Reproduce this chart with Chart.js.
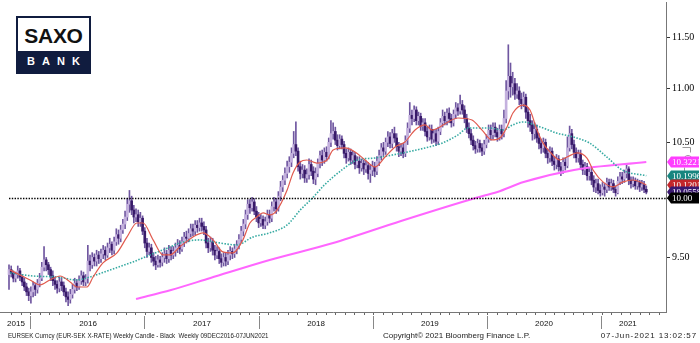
<!DOCTYPE html>
<html>
<head>
<meta charset="utf-8">
<title>EURSEK weekly</title>
<script src="https://cdn.jsdelivr.net/npm/chart.js@4.4.0/dist/chart.umd.min.js"></script>
<style>
  html, body { margin: 0; padding: 0; background: #fff; }
  #wrap { position: relative; width: 700px; height: 343px; overflow: hidden; }
  #chart { position: absolute; left: 0; top: 0; }
  .logo { position: absolute; left: 16px; top: 16px; width: 75px; height: 58px; box-sizing: border-box;
          border: 2px solid #101c3f; background: #fff; font-family: "Liberation Sans", Arial, sans-serif; }
  .logo .top { height: 35px; line-height: 36px; text-align: center; font-weight: bold; font-size: 21px;
               letter-spacing: -0.3px; color: #111; }
  .logo .bottom { position: absolute; left: 0; right: 0; bottom: 0; height: 21px; background: #101c3f; color: #fff;
                  font-size: 11px; font-weight: bold; text-align: center; line-height: 21px; letter-spacing: 7px; padding-left: 7px; }
  .foot { position: absolute; top: 331px; font-family: "Liberation Sans", sans-serif;
          font-size: 8px; color: #222; white-space: pre; transform-origin: 0 0; }
</style>
</head>
<body>
<div id="wrap">
  <canvas id="chart" width="700" height="343"></canvas>
  <div class="logo"><div class="top">SAXO</div><div class="bottom">BANK</div></div>
  <div class="foot" style="left:8px; transform: scaleX(0.77)">EURSEK Curncy (EUR-SEK X-RATE) Weekly Candle - Black  Weekly 09DEC2016-07JUN2021</div>
  <div class="foot" style="left:383px">Copyright© 2021 Bloomberg Finance L.P.</div>
  <div class="foot" style="right:3px; letter-spacing: 0.9px">07-Jun-2021 13:02:57</div>
</div>
<script>
// Weekly EURSEK candles, index 0 = first week shown (late Oct 2015)
const firstOpen = 9.36;
const closes = [
  9.40, 9.37, 9.33, 9.36, 9.39, 9.34, 9.30, 9.26, 9.22, 9.19,
  9.22, 9.27, 9.24, 9.29, 9.33, 9.42, 9.48, 9.44, 9.40, 9.35,
  9.31, 9.28, 9.25, 9.30, 9.27, 9.22, 9.18, 9.16, 9.20, 9.24,
  9.29, 9.26, 9.31, 9.35, 9.30, 9.33, 9.47, 9.44, 9.50, 9.47,
  9.52, 9.49, 9.53, 9.56, 9.52, 9.58, 9.61, 9.56, 9.63, 9.69,
  9.66, 9.73, 9.78, 9.84, 9.95, 9.98, 9.90, 9.84, 9.86, 9.80,
  9.83, 9.72, 9.62, 9.55, 9.58, 9.50, 9.47, 9.44, 9.48, 9.46,
  9.50, 9.53, 9.49, 9.56, 9.52, 9.55, 9.58, 9.60, 9.57, 9.63,
  9.67, 9.66, 9.70, 9.74, 9.72, 9.77, 9.75, 9.79, 9.76, 9.73,
  9.62, 9.58, 9.63, 9.56, 9.52, 9.55, 9.49, 9.46, 9.50, 9.47,
  9.52, 9.55, 9.53, 9.57, 9.60, 9.65, 9.72, 9.78, 9.86, 9.95,
  9.92, 9.97, 9.89, 9.84, 9.79, 9.82, 9.77, 9.80, 9.86, 9.83,
  9.93, 9.97, 9.91, 10.02, 10.10, 10.16, 10.22, 10.28, 10.32, 10.40,
  10.48, 10.42, 10.28, 10.22, 10.25, 10.18, 10.21, 10.30, 10.24, 10.17,
  10.22, 10.31, 10.38, 10.34, 10.41, 10.37, 10.50, 10.58, 10.60, 10.52,
  10.47, 10.53, 10.48, 10.40, 10.36, 10.41, 10.34, 10.38, 10.30, 10.33,
  10.27, 10.31, 10.26, 10.29, 10.22, 10.25, 10.28, 10.24, 10.33, 10.38,
  10.45, 10.42, 10.50, 10.55, 10.49, 10.58, 10.54, 10.46, 10.42, 10.45,
  10.40, 10.52, 10.63, 10.75, 10.72, 10.80, 10.70, 10.74, 10.65, 10.68,
  10.60, 10.55, 10.62, 10.53, 10.58, 10.51, 10.60, 10.68, 10.74, 10.70,
  10.77, 10.72, 10.68, 10.76, 10.82, 10.79, 10.85, 10.80, 10.72, 10.63,
  10.58, 10.52, 10.47, 10.44, 10.49, 10.45, 10.42, 10.48, 10.53, 10.61,
  10.57, 10.64, 10.59, 10.55, 10.62, 10.58, 10.72, 10.98, 11.12, 11.02,
  11.05, 10.95, 10.98, 10.90, 10.86, 10.92, 10.78, 10.70, 10.66, 10.58,
  10.62, 10.54, 10.49, 10.45, 10.50, 10.40, 10.36, 10.42, 10.33, 10.30,
  10.35, 10.28, 10.25, 10.32, 10.29, 10.45, 10.58, 10.48, 10.41, 10.36,
  10.39, 10.30, 10.25, 10.28, 10.20, 10.23, 10.16, 10.10, 10.13, 10.07,
  10.05, 10.10, 10.08, 10.14, 10.10, 10.13, 10.08, 10.05, 10.15, 10.19,
  10.17, 10.22, 10.26, 10.16, 10.13, 10.15, 10.11, 10.14, 10.10, 10.12,
  10.08, 10.0558
];
const highs = [
  9.44, 9.43, 9.39, 9.38, 9.43, 9.41, 9.36, 9.33, 9.29, 9.25,
  9.26, 9.30, 9.29, 9.32, 9.37, 9.46, 9.59, 9.50, 9.46, 9.42,
  9.39, 9.34, 9.31, 9.34, 9.33, 9.30, 9.25, 9.22, 9.24, 9.28,
  9.33, 9.32, 9.35, 9.39, 9.38, 9.36, 9.60, 9.52, 9.54, 9.53,
  9.56, 9.55, 9.57, 9.60, 9.59, 9.62, 9.66, 9.63, 9.67, 9.74,
  9.73, 9.77, 9.82, 9.89, 10.00, 10.07, 10.02, 9.94, 9.91, 9.90,
  9.88, 9.85, 9.75, 9.66, 9.62, 9.61, 9.54, 9.51, 9.52, 9.51,
  9.54, 9.58, 9.56, 9.60, 9.59, 9.59, 9.62, 9.65, 9.64, 9.67,
  9.71, 9.72, 9.74, 9.78, 9.78, 9.81, 9.81, 9.83, 9.83, 9.80,
  9.76, 9.66, 9.67, 9.66, 9.60, 9.59, 9.58, 9.53, 9.54, 9.54,
  9.56, 9.59, 9.58, 9.61, 9.64, 9.69, 9.76, 9.82, 9.90, 9.99,
  9.99, 10.01, 10.00, 9.93, 9.88, 9.86, 9.85, 9.84, 9.90, 9.90,
  9.97, 10.01, 10.00, 10.06, 10.15, 10.20, 10.27, 10.33, 10.37, 10.45,
  10.60, 10.69, 10.45, 10.33, 10.30, 10.29, 10.26, 10.35, 10.34, 10.28,
  10.27, 10.35, 10.42, 10.43, 10.45, 10.46, 10.54, 10.70, 10.68, 10.64,
  10.57, 10.57, 10.56, 10.51, 10.44, 10.45, 10.44, 10.42, 10.41, 10.37,
  10.37, 10.35, 10.34, 10.33, 10.32, 10.30, 10.33, 10.32, 10.37, 10.43,
  10.49, 10.50, 10.54, 10.60, 10.59, 10.62, 10.64, 10.58, 10.50, 10.49,
  10.49, 10.56, 10.68, 10.87, 10.80, 10.84, 10.83, 10.78, 10.77, 10.72,
  10.72, 10.64, 10.66, 10.66, 10.62, 10.62, 10.64, 10.72, 10.80, 10.78,
  10.81, 10.82, 10.76, 10.80, 10.87, 10.86, 10.94, 10.89, 10.84, 10.76,
  10.68, 10.62, 10.56, 10.51, 10.53, 10.52, 10.49, 10.52, 10.57, 10.66,
  10.66, 10.68, 10.68, 10.63, 10.66, 10.66, 10.80, 11.08, 11.43, 11.25,
  11.16, 11.10, 11.05, 11.02, 10.96, 10.97, 10.95, 10.82, 10.76, 10.70,
  10.68, 10.66, 10.58, 10.53, 10.54, 10.53, 10.44, 10.46, 10.45, 10.37,
  10.39, 10.38, 10.32, 10.36, 10.36, 10.55, 10.65, 10.62, 10.52, 10.45,
  10.43, 10.43, 10.34, 10.32, 10.31, 10.27, 10.27, 10.20, 10.17, 10.17,
  10.12, 10.14, 10.13, 10.18, 10.17, 10.17, 10.16, 10.11, 10.19, 10.23,
  10.23, 10.25, 10.30, 10.28, 10.19, 10.19, 10.18, 10.17, 10.16, 10.16,
  10.15, 10.11
];
const lows = [
  9.24, 9.34, 9.30, 9.30, 9.33, 9.31, 9.27, 9.23, 9.19, 9.15,
  9.13, 9.18, 9.19, 9.21, 9.26, 9.31, 9.39, 9.39, 9.36, 9.31,
  9.27, 9.24, 9.21, 9.22, 9.23, 9.19, 9.14, 9.11, 9.13, 9.17,
  9.21, 9.23, 9.24, 9.28, 9.27, 9.27, 9.29, 9.39, 9.41, 9.43,
  9.43, 9.45, 9.46, 9.49, 9.48, 9.50, 9.54, 9.52, 9.53, 9.60,
  9.61, 9.63, 9.70, 9.74, 9.81, 9.88, 9.86, 9.79, 9.80, 9.76,
  9.76, 9.69, 9.58, 9.50, 9.52, 9.46, 9.43, 9.40, 9.42, 9.42,
  9.43, 9.46, 9.45, 9.46, 9.48, 9.49, 9.51, 9.54, 9.53, 9.55,
  9.59, 9.62, 9.63, 9.67, 9.68, 9.69, 9.71, 9.72, 9.72, 9.69,
  9.58, 9.54, 9.55, 9.52, 9.48, 9.49, 9.45, 9.42, 9.43, 9.43,
  9.44, 9.48, 9.49, 9.50, 9.53, 9.57, 9.62, 9.68, 9.74, 9.82,
  9.87, 9.89, 9.86, 9.80, 9.75, 9.76, 9.74, 9.74, 9.77, 9.79,
  9.80, 9.89, 9.87, 9.89, 9.98, 10.06, 10.12, 10.18, 10.23, 10.28,
  10.36, 10.38, 10.24, 10.17, 10.18, 10.14, 10.14, 10.17, 10.20, 10.13,
  10.12, 10.19, 10.27, 10.29, 10.31, 10.33, 10.35, 10.46, 10.53, 10.48,
  10.43, 10.44, 10.44, 10.36, 10.31, 10.33, 10.30, 10.31, 10.26, 10.27,
  10.22, 10.24, 10.21, 10.23, 10.17, 10.14, 10.20, 10.19, 10.21, 10.29,
  10.34, 10.38, 10.39, 10.46, 10.45, 10.45, 10.50, 10.42, 10.37, 10.38,
  10.36, 10.37, 10.48, 10.59, 10.66, 10.69, 10.66, 10.66, 10.61, 10.61,
  10.56, 10.51, 10.52, 10.49, 10.50, 10.47, 10.48, 10.57, 10.64, 10.66,
  10.66, 10.68, 10.64, 10.65, 10.72, 10.75, 10.76, 10.76, 10.68, 10.59,
  10.54, 10.48, 10.43, 10.40, 10.41, 10.41, 10.38, 10.39, 10.45, 10.50,
  10.52, 10.53, 10.55, 10.51, 10.52, 10.53, 10.55, 10.68, 10.90, 10.92,
  10.94, 10.90, 10.91, 10.85, 10.81, 10.83, 10.72, 10.64, 10.60, 10.52,
  10.53, 10.50, 10.44, 10.40, 10.41, 10.36, 10.31, 10.32, 10.29, 10.25,
  10.26, 10.24, 10.20, 10.22, 10.25, 10.27, 10.42, 10.44, 10.36, 10.32,
  10.32, 10.26, 10.21, 10.21, 10.16, 10.16, 10.12, 10.06, 10.05, 10.04,
  10.02, 10.03, 10.02, 10.05, 10.07, 10.07, 10.05, 10.02, 10.04, 10.12,
  10.13, 10.14, 10.18, 10.12, 10.09, 10.10, 10.08, 10.08, 10.06, 10.07,
  10.05, 10.04
];

// Moving averages, sampled by week index
const fastWeeks = [0.5, 5, 9.6, 14.2, 18.7, 23.3, 27.9, 31, 35.6, 38.4, 42.9, 49.3, 53.9, 58.4, 61.2, 65.8,
  70.3, 73.5, 78, 84, 88.6, 93.2, 97.7, 102.3, 106.8, 110, 113.2, 116, 119.2, 122.4, 127, 129.7,
  132.9, 136, 140.6, 145.2, 148, 153.4, 158, 162.6, 167.1, 171.7, 176.3, 180.8, 185.4, 190, 193.2,
  196, 200.5, 205, 211.4, 216, 220.5, 224.2, 227.4, 230.1, 234.7, 237.9, 241.1, 243.8, 247, 251.6,
  254.8, 259.4, 263.9, 266.7, 271.2, 275.8, 280.4, 284.9, 291];
const fastValues = [9.398, 9.356, 9.316, 9.276, 9.316, 9.348, 9.300, 9.259, 9.259, 9.340, 9.455, 9.538, 9.671, 9.789, 9.789, 9.646,
  9.521, 9.521, 9.588, 9.671, 9.705, 9.646, 9.546, 9.538, 9.646, 9.789, 9.841, 9.875, 9.858, 9.900, 10.074, 10.224,
  10.322, 10.340, 10.313, 10.340, 10.431, 10.449, 10.413, 10.340, 10.278, 10.367, 10.458, 10.504, 10.613, 10.660, 10.613,
  10.632, 10.688, 10.725, 10.706, 10.613, 10.522, 10.540, 10.642, 10.772, 10.846, 10.799, 10.613, 10.495, 10.413, 10.340,
  10.367, 10.404, 10.358, 10.251, 10.145, 10.101, 10.145, 10.162, 10.1201];

const midWeeks = [0.5, 11, 22, 31, 37, 46, 56.6, 64.4, 72.6, 78, 87, 96, 104, 111.4, 119, 127, 133, 139, 144,
  152, 159, 167, 175, 182, 190, 198, 205, 209.6, 214, 219.6, 225.6, 230, 234.7, 242.5, 250, 257.5,
  265, 273, 280, 291];
const midValues = [9.373, 9.348, 9.340, 9.316, 9.340, 9.397, 9.463, 9.521, 9.579, 9.621, 9.646, 9.621, 9.604, 9.671, 9.705, 9.772, 9.900, 10.013, 10.118,
  10.251, 10.340, 10.358, 10.385, 10.413, 10.449, 10.495, 10.568, 10.632, 10.632, 10.632, 10.613, 10.660, 10.688, 10.642, 10.586, 10.550,
  10.495, 10.367, 10.251, 10.1996];

const slowWeeks = [58, 74, 92, 119, 148, 179, 213, 223, 235, 258, 291];
const slowValues = [9.163, 9.235, 9.332, 9.479, 9.620, 9.806, 10.004, 10.057, 10.144, 10.251, 10.3221];

const levelValue = 10.00;

const yearLabels = ['2015', '2016', '2017', '2018', '2019', '2020', '2021'];
const yearCentres = [3.2, 36.1, 88.1, 140.2, 192.2, 244.3, 282.6];
const yearStarts = [10, 62.1, 114.2, 166.3, 218.4, 270.5];
const priceTicks = [9.5, 10, 10.5, 11, 11.5];

const opens = closes.map((c, i) => (i === 0 ? firstOpen : closes[i - 1]));
const weeks = closes.map((c, i) => i);

const X_MIN = -4.11, X_MAX = 300;
const WEEKS_PER_MONTH = 52.18 / 12;

const UP_FILL = '#c4b1de';
const DOWN_FILL = '#381a69';

const pts = (xs, ys) => xs.map((x, k) => ({ x: x, y: ys[k] }));

// tags on the right edge showing the last value of each line
const tags = [
  { value: slowValues[slowValues.length - 1], digits: 4, bg: '#ff3dff', fg: '#ffffff' },
  { value: midValues[midValues.length - 1], digits: 4, bg: '#17857f', fg: '#ffffff' },
  { value: fastValues[fastValues.length - 1], digits: 4, bg: '#c3262b', fg: '#ffffff' },
  { value: closes[closes.length - 1], digits: 4, bg: '#3a1870', fg: '#ffffff' },
  { value: levelValue, digits: 2, bg: '#000000', fg: '#ffffff' }
];

const valueTags = {
  id: 'valueTags',
  afterDraw(chart) {
    const ctx = chart.ctx;
    const scale = chart.scales.y;
    const x0 = chart.chartArea.right + 1;
    ctx.save();
    // faint alert marker beside the tags
    ctx.strokeStyle = '#9a9a9a';
    ctx.lineWidth = 1;
    ctx.beginPath();
    ctx.moveTo(682.5, 147.5); ctx.lineTo(690.5, 147.5); ctx.lineTo(690.5, 152.5);
    ctx.stroke();
    ctx.beginPath();
    ctx.arc(688, 160, 4.5, 0, Math.PI * 2);
    ctx.stroke();
    ctx.beginPath();
    ctx.moveTo(684.5, 167.5); ctx.lineTo(684.5, 180.5); ctx.lineTo(692.5, 180.5);
    ctx.stroke();

    ctx.font = '9px "Liberation Serif", serif';
    ctx.textBaseline = 'middle';
    ctx.textAlign = 'left';
    tags.forEach(t => {
      const py = Math.round(scale.getPixelForValue(t.value));
      ctx.fillStyle = t.bg;
      ctx.beginPath();
      ctx.moveTo(x0, py);
      ctx.lineTo(x0 + 4, py - 5.5);
      ctx.lineTo(699, py - 5.5);
      ctx.lineTo(699, py + 5.5);
      ctx.lineTo(x0 + 4, py + 5.5);
      ctx.closePath();
      ctx.fill();
      ctx.fillStyle = t.fg;
      ctx.fillText(t.value.toFixed(t.digits), x0 + 5, py + 0.5);
    });
    ctx.restore();
  }
};

const fixedBottom = (h) => (s) => { s.height = h; s.paddingLeft = 0; s.paddingRight = 0; };

new Chart(document.getElementById('chart'), {
  type: 'bar',
  data: {
    datasets: [
      {
        label: 'Range',
        data: weeks.map(i => ({ x: i, y: [lows[i], highs[i]] })),
        backgroundColor: '#6f56a0',
        barThickness: 1,
        grouped: false,
        order: 6
      },
      {
        label: 'Body',
        data: weeks.map(i => ({ x: i, y: [opens[i], closes[i]] })),
        backgroundColor: ctx => {
          const i = ctx.dataIndex;
          return closes[i] >= opens[i] ? UP_FILL : DOWN_FILL;
        },
        barThickness: 2,
        minBarLength: 1,
        grouped: false,
        order: 5
      },
      {
        type: 'line',
        label: '200w',
        data: pts(slowWeeks, slowValues),
        borderColor: '#ff66ff',
        borderWidth: 2,
        pointRadius: 0,
        cubicInterpolationMode: 'monotone',
        order: 3
      },
      {
        type: 'line',
        label: '50w',
        data: pts(midWeeks, midValues),
        borderColor: '#36aaa2',
        borderWidth: 1.6,
        borderDash: [1.5, 1.5],
        pointRadius: 0,
        cubicInterpolationMode: 'monotone',
        order: 2
      },
      {
        type: 'line',
        label: '13w',
        data: pts(fastWeeks, fastValues),
        borderColor: '#e05a4e',
        borderWidth: 1.2,
        pointRadius: 0,
        cubicInterpolationMode: 'monotone',
        order: 1
      },
      {
        type: 'line',
        label: 'Level',
        data: [{ x: 0, y: levelValue }, { x: X_MAX, y: levelValue }],
        borderColor: '#000000',
        borderWidth: 1.4,
        borderDash: [1.4, 1.4],
        pointRadius: 0,
        order: 0
      }
    ]
  },
  options: {
    responsive: false,
    animation: false,
    layout: { padding: { top: 2, left: 0, right: 0, bottom: 0 } },
    plugins: {
      legend: { display: false },
      tooltip: { enabled: false },
      title: { display: false }
    },
    scales: {
      x: {
        type: 'linear',
        position: 'bottom',
        weight: 0,
        min: X_MIN,
        max: X_MAX,
        offset: false,
        afterBuildTicks: s => {
          const t = [];
          for (let v = yearStarts[0] - 2 * WEEKS_PER_MONTH; v <= X_MAX; v += WEEKS_PER_MONTH) t.push({ value: v });
          s.ticks = t;
        },
        afterFit: fixedBottom(4),
        ticks: { display: false, autoSkip: false },
        grid: { offset: false, drawOnChartArea: false, tickLength: 3, color: '#666666' },
        border: { display: true, color: '#777777' }
      },
      xSep: {
        type: 'linear',
        position: 'bottom',
        weight: 1,
        min: X_MIN,
        max: X_MAX,
        offset: false,
        afterBuildTicks: s => { s.ticks = yearStarts.map(v => ({ value: v })); },
        afterFit: fixedBottom(0),
        ticks: { display: false, autoSkip: false },
        grid: { offset: false, drawOnChartArea: false, tickLength: 13, color: '#888888' },
        border: { display: false }
      },
      xYear: {
        type: 'linear',
        position: 'bottom',
        weight: 2,
        min: X_MIN,
        max: X_MAX,
        offset: false,
        afterBuildTicks: s => { s.ticks = yearCentres.map(v => ({ value: v })); },
        afterFit: fixedBottom(27),
        ticks: {
          autoSkip: false,
          maxRotation: 0,
          padding: 3,
          color: '#111111',
          font: { family: '"Liberation Sans", sans-serif', size: 8 },
          callback: (v, i) => yearLabels[i]
        },
        grid: { display: false, drawTicks: false },
        border: { display: false }
      },
      y: {
        type: 'logarithmic',
        position: 'right',
        min: 9.06,
        max: 11.863,
        afterBuildTicks: s => { s.ticks = priceTicks.map(v => ({ value: v })); },
        afterFit: s => { s.width = 34; s.paddingTop = 0; s.paddingBottom = 0; },
        ticks: {
          autoSkip: false,
          padding: 2,
          color: '#000000',
          font: { family: '"Liberation Serif", serif', size: 10 },
          callback: v => Number(v).toFixed(2)
        },
        grid: { drawOnChartArea: false, tickLength: 4, color: '#333333' },
        border: { display: true, color: '#777777' }
      }
    }
  },
  plugins: [valueTags]
});
</script>
</body>
</html>
